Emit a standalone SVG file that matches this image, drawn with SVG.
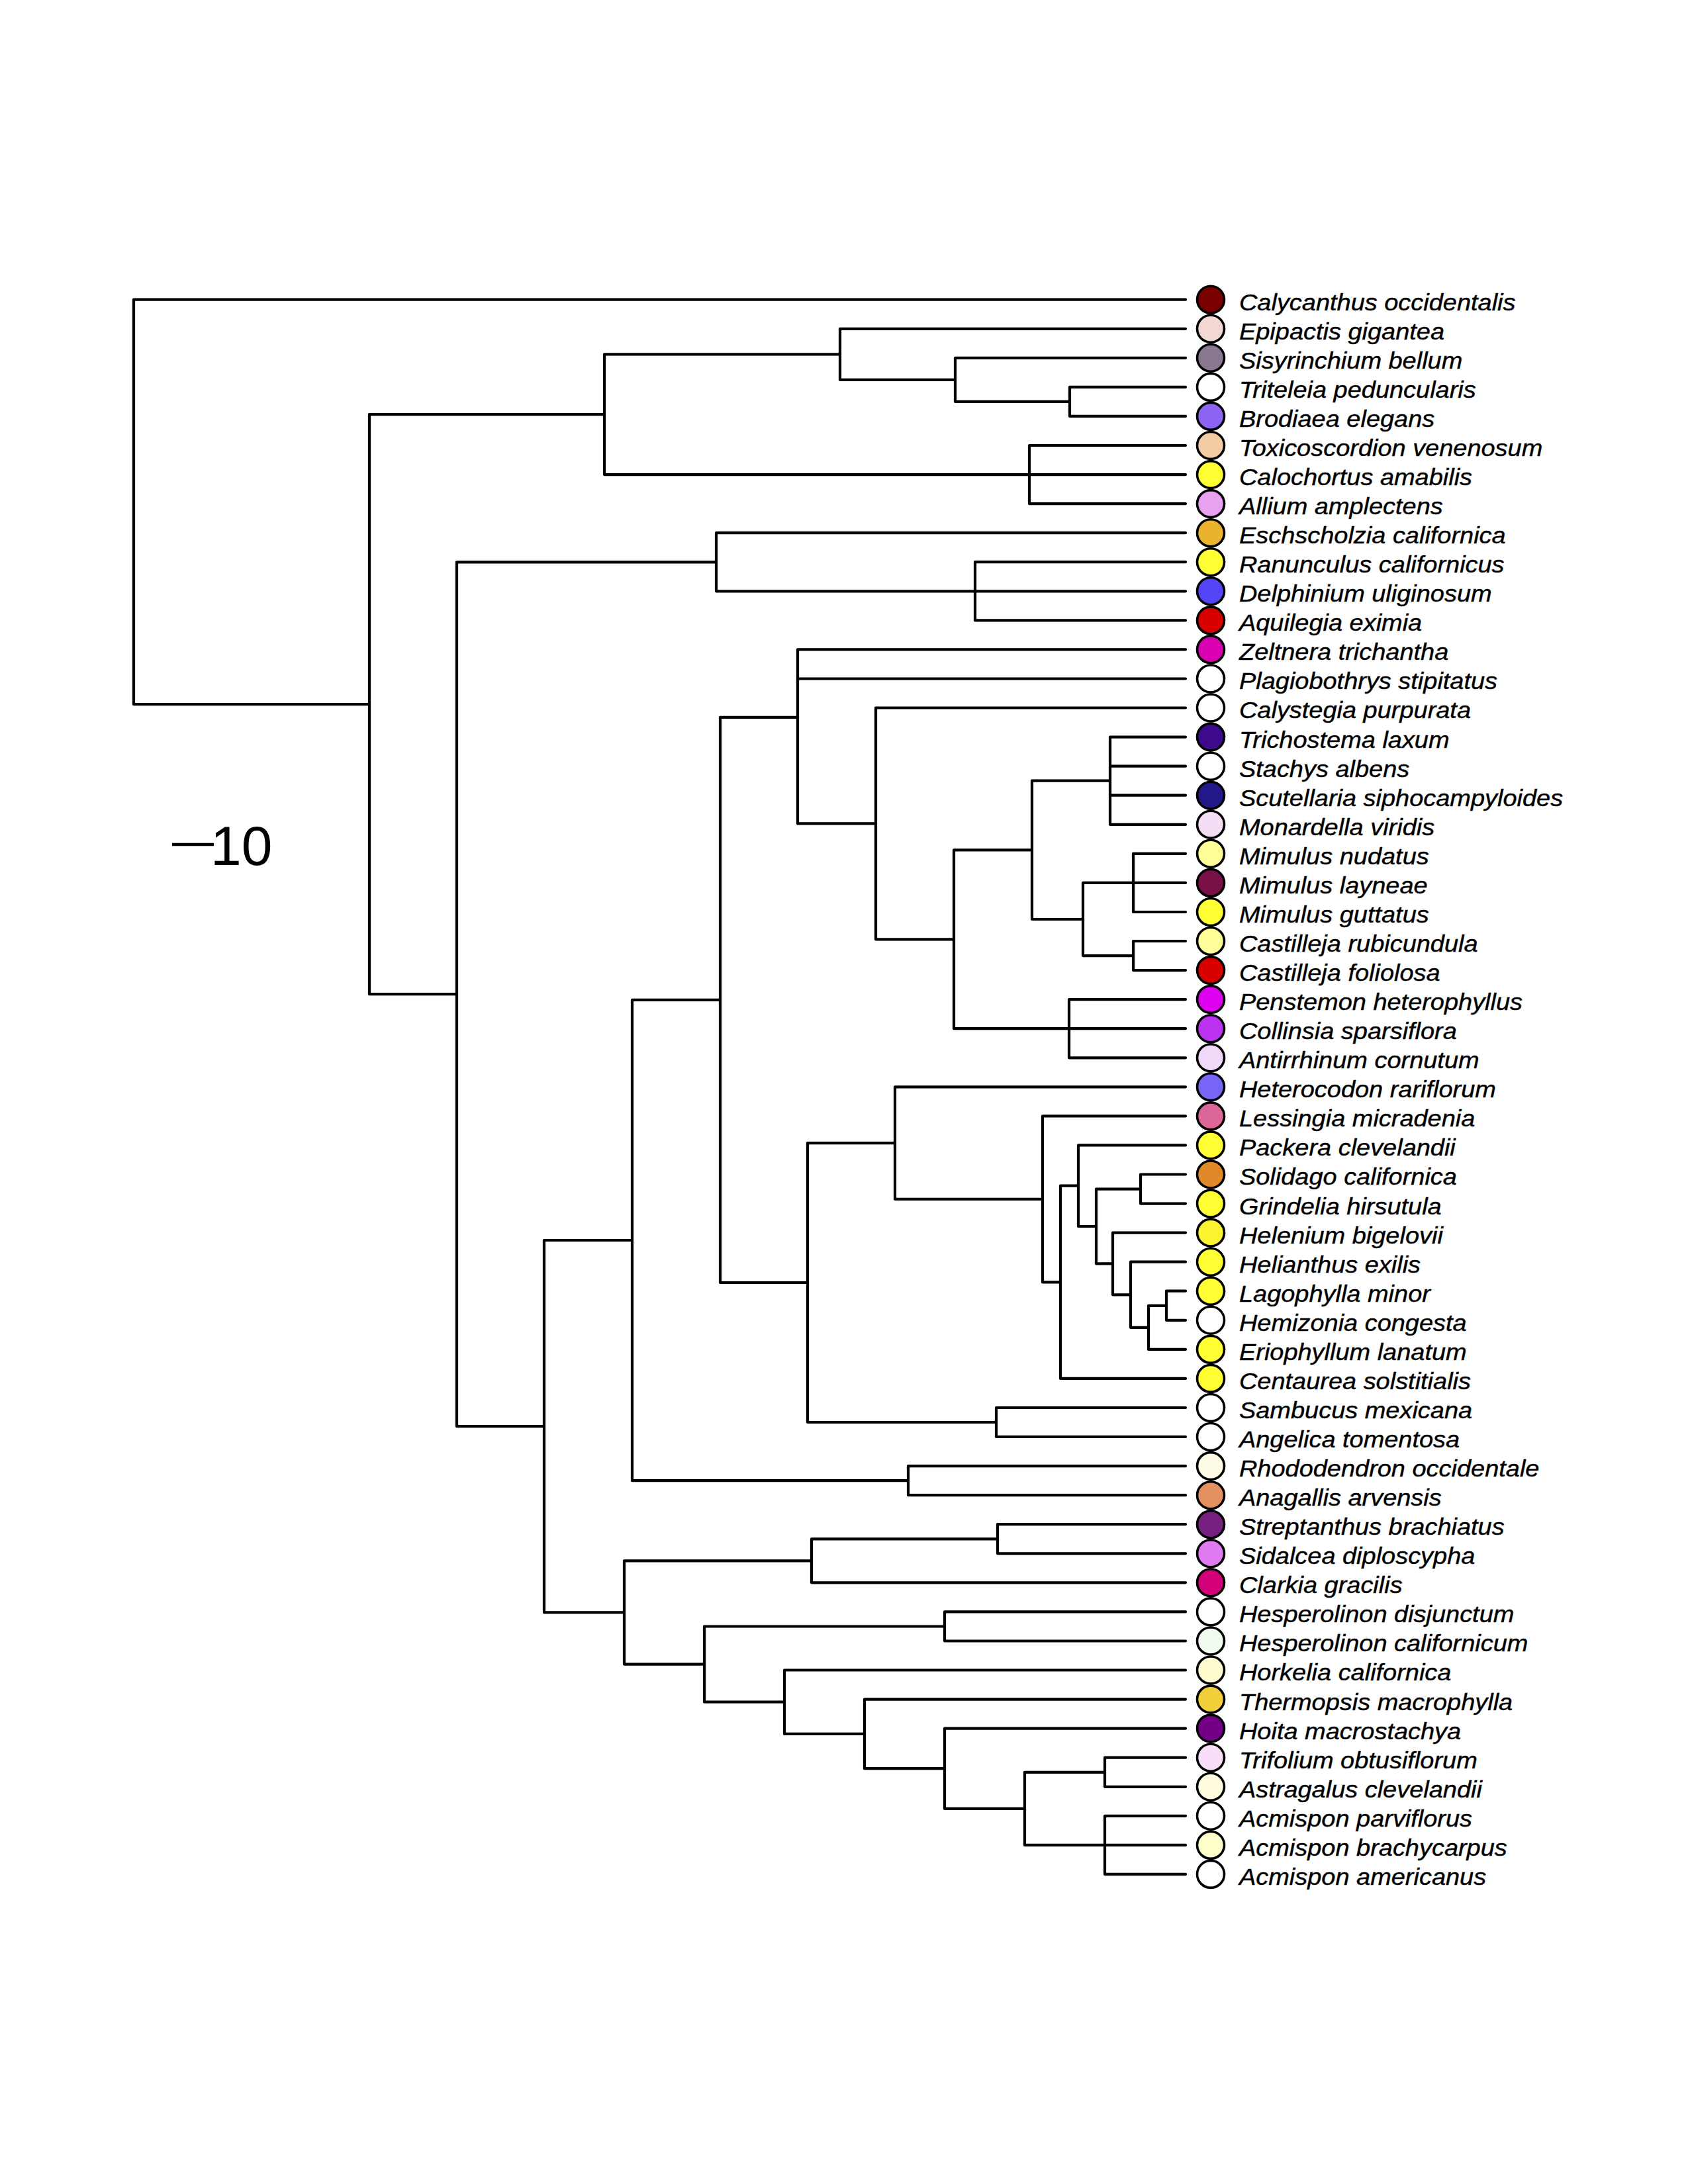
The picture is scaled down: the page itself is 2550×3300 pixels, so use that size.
<svg xmlns="http://www.w3.org/2000/svg" width="2550" height="3300" viewBox="0 0 2550 3300">
<style>
.br{fill:none;stroke:#000;stroke-width:4.2;stroke-linecap:round;stroke-linejoin:miter}
.tc{stroke:#000;stroke-width:3.6}
.lb{font-family:"Liberation Sans",Arial,sans-serif;font-style:italic;font-size:34.5px;fill:#000;stroke:#000;stroke-width:0.4}
.sc{font-family:"Liberation Sans",Arial,sans-serif;font-size:84px;fill:#000}
</style>
<rect width="2550" height="3300" fill="#fff"/>
<g id="scale-bar">
<line x1="260" y1="1276" x2="323" y2="1276" stroke="#000" stroke-width="4.5"/>
<text class="sc" x="318" y="1307">10</text>
</g>
<g id="connectors">
<path class="br" d="M202 452.7V1064.2M202 452.7H1791M202 1064.2H558"/>
<path class="br" d="M558 626.2V1502.2M558 626.2H913M558 1502.2H690"/>
<path class="br" d="M913 535.3V717.1M913 535.3H1269M913 717.1H1555"/>
<path class="br" d="M1269 496.8V573.9M1269 496.8H1791M1269 573.9H1443"/>
<path class="br" d="M1443 540.8V606.9M1443 540.8H1791M1443 606.9H1616"/>
<path class="br" d="M1616 584.9V628.9M1616 584.9H1791M1616 628.9H1791"/>
<path class="br" d="M1555 673V761.1M1555 673H1791M1555 717.1H1791M1555 761.1H1791"/>
<path class="br" d="M690 849.3V2155.2M690 849.3H1082M690 2155.2H822"/>
<path class="br" d="M1082 805.2V893.3M1082 805.2H1791M1082 893.3H1473"/>
<path class="br" d="M1473 849.2V937.4M1473 849.2H1791M1473 893.3H1791M1473 937.4H1791"/>
<path class="br" d="M822 1874V2436.4M822 1874H955M822 2436.4H943"/>
<path class="br" d="M955 1510.9V2237.2M955 1510.9H1088M955 2237.2H1372"/>
<path class="br" d="M1088 1083.8V1938M1088 1083.8H1205M1088 1938H1220"/>
<path class="br" d="M1205 981.4V1244.4M1205 981.4H1791M1205 1025.5H1791M1205 1244.4H1323"/>
<path class="br" d="M1323 1069.5V1419.3M1323 1069.5H1791M1323 1419.3H1441"/>
<path class="br" d="M1441 1284.3V1554.2M1441 1284.3H1559M1441 1554.2H1615"/>
<path class="br" d="M1559 1179.7V1389M1559 1179.7H1677M1559 1389H1636"/>
<path class="br" d="M1677 1113.6V1245.8M1677 1113.6H1791M1677 1157.7H1791M1677 1201.7H1791M1677 1245.8H1791"/>
<path class="br" d="M1636 1333.9V1444.1M1636 1333.9H1712M1636 1444.1H1712"/>
<path class="br" d="M1712 1289.8V1378M1712 1289.8H1791M1712 1333.9H1791M1712 1378H1791"/>
<path class="br" d="M1712 1422V1466.1M1712 1422H1791M1712 1466.1H1791"/>
<path class="br" d="M1615 1510.1V1598.3M1615 1510.1H1791M1615 1554.2H1791M1615 1598.3H1791"/>
<path class="br" d="M1220 1727.1V2149M1220 1727.1H1352M1220 2149H1505"/>
<path class="br" d="M1352 1642.3V1811.9M1352 1642.3H1791M1352 1811.9H1575"/>
<path class="br" d="M1575 1686.4V1937.3M1575 1686.4H1791M1575 1937.3H1602"/>
<path class="br" d="M1602 1791.7V2082.9M1602 1791.7H1629M1602 2082.9H1791"/>
<path class="br" d="M1629 1730.4V1853M1629 1730.4H1791M1629 1853H1656"/>
<path class="br" d="M1656 1796.6V1909.4M1656 1796.6H1723M1656 1909.4H1681"/>
<path class="br" d="M1723 1774.5V1818.6M1723 1774.5H1791M1723 1818.6H1791"/>
<path class="br" d="M1681 1862.6V1956.3M1681 1862.6H1791M1681 1956.3H1708"/>
<path class="br" d="M1708 1906.7V2005.8M1708 1906.7H1791M1708 2005.8H1735"/>
<path class="br" d="M1735 1972.8V2038.9M1735 1972.8H1762M1735 2038.9H1791"/>
<path class="br" d="M1762 1950.7V1994.8M1762 1950.7H1791M1762 1994.8H1791"/>
<path class="br" d="M1505 2127V2171M1505 2127H1791M1505 2171H1791"/>
<path class="br" d="M1372 2215.1V2259.2M1372 2215.1H1791M1372 2259.2H1791"/>
<path class="br" d="M943 2358.3V2514.6M943 2358.3H1226M943 2514.6H1064"/>
<path class="br" d="M1226 2325.3V2391.3M1226 2325.3H1507M1226 2391.3H1791"/>
<path class="br" d="M1507 2303.2V2347.3M1507 2303.2H1791M1507 2347.3H1791"/>
<path class="br" d="M1064 2457.5V2571.7M1064 2457.5H1427M1064 2571.7H1185"/>
<path class="br" d="M1427 2435.4V2479.5M1427 2435.4H1791M1427 2479.5H1791"/>
<path class="br" d="M1185 2523.5V2619.9M1185 2523.5H1791M1185 2619.9H1306"/>
<path class="br" d="M1306 2567.6V2672.2M1306 2567.6H1791M1306 2672.2H1427"/>
<path class="br" d="M1427 2611.6V2732.8M1427 2611.6H1791M1427 2732.8H1548"/>
<path class="br" d="M1548 2677.8V2787.9M1548 2677.8H1669M1548 2787.9H1669"/>
<path class="br" d="M1669 2655.7V2699.8M1669 2655.7H1791M1669 2699.8H1791"/>
<path class="br" d="M1669 2743.8V2831.9M1669 2743.8H1791M1669 2787.9H1791M1669 2831.9H1791"/>
</g>
<g id="tip00"><circle class="tc" cx="1829" cy="452.7" r="20.5" fill="#7A0000"/><text class="lb" transform="scale(1.1 1)" x="1701.8" y="468.7">Calycanthus occidentalis</text></g>
<g id="tip01"><circle class="tc" cx="1829" cy="496.8" r="20.5" fill="#F2D8D3"/><text class="lb" transform="scale(1.1 1)" x="1701.8" y="512.8">Epipactis gigantea</text></g>
<g id="tip02"><circle class="tc" cx="1829" cy="540.8" r="20.5" fill="#8A7890"/><text class="lb" transform="scale(1.1 1)" x="1701.8" y="556.8">Sisyrinchium bellum</text></g>
<g id="tip03"><circle class="tc" cx="1829" cy="584.9" r="20.5" fill="#FFFFFF"/><text class="lb" transform="scale(1.1 1)" x="1701.8" y="600.9">Triteleia peduncularis</text></g>
<g id="tip04"><circle class="tc" cx="1829" cy="628.9" r="20.5" fill="#8C66F2"/><text class="lb" transform="scale(1.1 1)" x="1701.8" y="644.9">Brodiaea elegans</text></g>
<g id="tip05"><circle class="tc" cx="1829" cy="673" r="20.5" fill="#F2CCA3"/><text class="lb" transform="scale(1.1 1)" x="1701.8" y="689">Toxicoscordion venenosum</text></g>
<g id="tip06"><circle class="tc" cx="1829" cy="717.1" r="20.5" fill="#FFFF33"/><text class="lb" transform="scale(1.1 1)" x="1701.8" y="733.1">Calochortus amabilis</text></g>
<g id="tip07"><circle class="tc" cx="1829" cy="761.1" r="20.5" fill="#E8A0F0"/><text class="lb" transform="scale(1.1 1)" x="1701.8" y="777.1">Allium amplectens</text></g>
<g id="tip08"><circle class="tc" cx="1829" cy="805.2" r="20.5" fill="#EBB22E"/><text class="lb" transform="scale(1.1 1)" x="1701.8" y="821.2">Eschscholzia californica</text></g>
<g id="tip09"><circle class="tc" cx="1829" cy="849.2" r="20.5" fill="#FFFF33"/><text class="lb" transform="scale(1.1 1)" x="1701.8" y="865.2">Ranunculus californicus</text></g>
<g id="tip10"><circle class="tc" cx="1829" cy="893.3" r="20.5" fill="#5544F5"/><text class="lb" transform="scale(1.1 1)" x="1701.8" y="909.3">Delphinium uliginosum</text></g>
<g id="tip11"><circle class="tc" cx="1829" cy="937.4" r="20.5" fill="#D90000"/><text class="lb" transform="scale(1.1 1)" x="1701.8" y="953.4">Aquilegia eximia</text></g>
<g id="tip12"><circle class="tc" cx="1829" cy="981.4" r="20.5" fill="#D800B0"/><text class="lb" transform="scale(1.1 1)" x="1701.8" y="997.4">Zeltnera trichantha</text></g>
<g id="tip13"><circle class="tc" cx="1829" cy="1025.5" r="20.5" fill="#FFFFFF"/><text class="lb" transform="scale(1.1 1)" x="1701.8" y="1041.5">Plagiobothrys stipitatus</text></g>
<g id="tip14"><circle class="tc" cx="1829" cy="1069.5" r="20.5" fill="#FFFFFF"/><text class="lb" transform="scale(1.1 1)" x="1701.8" y="1085.5">Calystegia purpurata</text></g>
<g id="tip15"><circle class="tc" cx="1829" cy="1113.6" r="20.5" fill="#3D0A8C"/><text class="lb" transform="scale(1.1 1)" x="1701.8" y="1129.6">Trichostema laxum</text></g>
<g id="tip16"><circle class="tc" cx="1829" cy="1157.7" r="20.5" fill="#FFFFFF"/><text class="lb" transform="scale(1.1 1)" x="1701.8" y="1173.7">Stachys albens</text></g>
<g id="tip17"><circle class="tc" cx="1829" cy="1201.7" r="20.5" fill="#221888"/><text class="lb" transform="scale(1.1 1)" x="1701.8" y="1217.7">Scutellaria siphocampyloides</text></g>
<g id="tip18"><circle class="tc" cx="1829" cy="1245.8" r="20.5" fill="#F5DDF5"/><text class="lb" transform="scale(1.1 1)" x="1701.8" y="1261.8">Monardella viridis</text></g>
<g id="tip19"><circle class="tc" cx="1829" cy="1289.8" r="20.5" fill="#FFFF99"/><text class="lb" transform="scale(1.1 1)" x="1701.8" y="1305.8">Mimulus nudatus</text></g>
<g id="tip20"><circle class="tc" cx="1829" cy="1333.9" r="20.5" fill="#7A1048"/><text class="lb" transform="scale(1.1 1)" x="1701.8" y="1349.9">Mimulus layneae</text></g>
<g id="tip21"><circle class="tc" cx="1829" cy="1378" r="20.5" fill="#FFFF33"/><text class="lb" transform="scale(1.1 1)" x="1701.8" y="1394">Mimulus guttatus</text></g>
<g id="tip22"><circle class="tc" cx="1829" cy="1422" r="20.5" fill="#FFFF99"/><text class="lb" transform="scale(1.1 1)" x="1701.8" y="1438">Castilleja rubicundula</text></g>
<g id="tip23"><circle class="tc" cx="1829" cy="1466.1" r="20.5" fill="#D90000"/><text class="lb" transform="scale(1.1 1)" x="1701.8" y="1482.1">Castilleja foliolosa</text></g>
<g id="tip24"><circle class="tc" cx="1829" cy="1510.1" r="20.5" fill="#DD00EE"/><text class="lb" transform="scale(1.1 1)" x="1701.8" y="1526.1">Penstemon heterophyllus</text></g>
<g id="tip25"><circle class="tc" cx="1829" cy="1554.2" r="20.5" fill="#BB33EE"/><text class="lb" transform="scale(1.1 1)" x="1701.8" y="1570.2">Collinsia sparsiflora</text></g>
<g id="tip26"><circle class="tc" cx="1829" cy="1598.3" r="20.5" fill="#F2D8F8"/><text class="lb" transform="scale(1.1 1)" x="1701.8" y="1614.3">Antirrhinum cornutum</text></g>
<g id="tip27"><circle class="tc" cx="1829" cy="1642.3" r="20.5" fill="#7766F5"/><text class="lb" transform="scale(1.1 1)" x="1701.8" y="1658.3">Heterocodon rariflorum</text></g>
<g id="tip28"><circle class="tc" cx="1829" cy="1686.4" r="20.5" fill="#DD6699"/><text class="lb" transform="scale(1.1 1)" x="1701.8" y="1702.4">Lessingia micradenia</text></g>
<g id="tip29"><circle class="tc" cx="1829" cy="1730.4" r="20.5" fill="#FFFF33"/><text class="lb" transform="scale(1.1 1)" x="1701.8" y="1746.4">Packera clevelandii</text></g>
<g id="tip30"><circle class="tc" cx="1829" cy="1774.5" r="20.5" fill="#E0892A"/><text class="lb" transform="scale(1.1 1)" x="1701.8" y="1790.5">Solidago californica</text></g>
<g id="tip31"><circle class="tc" cx="1829" cy="1818.6" r="20.5" fill="#FFFF33"/><text class="lb" transform="scale(1.1 1)" x="1701.8" y="1834.6">Grindelia hirsutula</text></g>
<g id="tip32"><circle class="tc" cx="1829" cy="1862.6" r="20.5" fill="#FDF22F"/><text class="lb" transform="scale(1.1 1)" x="1701.8" y="1878.6">Helenium bigelovii</text></g>
<g id="tip33"><circle class="tc" cx="1829" cy="1906.7" r="20.5" fill="#FFFF33"/><text class="lb" transform="scale(1.1 1)" x="1701.8" y="1922.7">Helianthus exilis</text></g>
<g id="tip34"><circle class="tc" cx="1829" cy="1950.7" r="20.5" fill="#FFFF33"/><text class="lb" transform="scale(1.1 1)" x="1701.8" y="1966.7">Lagophylla minor</text></g>
<g id="tip35"><circle class="tc" cx="1829" cy="1994.8" r="20.5" fill="#FFFFFF"/><text class="lb" transform="scale(1.1 1)" x="1701.8" y="2010.8">Hemizonia congesta</text></g>
<g id="tip36"><circle class="tc" cx="1829" cy="2038.9" r="20.5" fill="#FFFF33"/><text class="lb" transform="scale(1.1 1)" x="1701.8" y="2054.9">Eriophyllum lanatum</text></g>
<g id="tip37"><circle class="tc" cx="1829" cy="2082.9" r="20.5" fill="#FFFF33"/><text class="lb" transform="scale(1.1 1)" x="1701.8" y="2098.9">Centaurea solstitialis</text></g>
<g id="tip38"><circle class="tc" cx="1829" cy="2127" r="20.5" fill="#FFFFFF"/><text class="lb" transform="scale(1.1 1)" x="1701.8" y="2143">Sambucus mexicana</text></g>
<g id="tip39"><circle class="tc" cx="1829" cy="2171" r="20.5" fill="#FFFFFF"/><text class="lb" transform="scale(1.1 1)" x="1701.8" y="2187">Angelica tomentosa</text></g>
<g id="tip40"><circle class="tc" cx="1829" cy="2215.1" r="20.5" fill="#FFFCE6"/><text class="lb" transform="scale(1.1 1)" x="1701.8" y="2231.1">Rhododendron occidentale</text></g>
<g id="tip41"><circle class="tc" cx="1829" cy="2259.2" r="20.5" fill="#E59060"/><text class="lb" transform="scale(1.1 1)" x="1701.8" y="2275.2">Anagallis arvensis</text></g>
<g id="tip42"><circle class="tc" cx="1829" cy="2303.2" r="20.5" fill="#782080"/><text class="lb" transform="scale(1.1 1)" x="1701.8" y="2319.2">Streptanthus brachiatus</text></g>
<g id="tip43"><circle class="tc" cx="1829" cy="2347.3" r="20.5" fill="#E07AF0"/><text class="lb" transform="scale(1.1 1)" x="1701.8" y="2363.3">Sidalcea diploscypha</text></g>
<g id="tip44"><circle class="tc" cx="1829" cy="2391.3" r="20.5" fill="#D4007A"/><text class="lb" transform="scale(1.1 1)" x="1701.8" y="2407.3">Clarkia gracilis</text></g>
<g id="tip45"><circle class="tc" cx="1829" cy="2435.4" r="20.5" fill="#FFFFFF"/><text class="lb" transform="scale(1.1 1)" x="1701.8" y="2451.4">Hesperolinon disjunctum</text></g>
<g id="tip46"><circle class="tc" cx="1829" cy="2479.5" r="20.5" fill="#F0FAEE"/><text class="lb" transform="scale(1.1 1)" x="1701.8" y="2495.5">Hesperolinon californicum</text></g>
<g id="tip47"><circle class="tc" cx="1829" cy="2523.5" r="20.5" fill="#FFFCD0"/><text class="lb" transform="scale(1.1 1)" x="1701.8" y="2539.5">Horkelia californica</text></g>
<g id="tip48"><circle class="tc" cx="1829" cy="2567.6" r="20.5" fill="#F2CE3A"/><text class="lb" transform="scale(1.1 1)" x="1701.8" y="2583.6">Thermopsis macrophylla</text></g>
<g id="tip49"><circle class="tc" cx="1829" cy="2611.6" r="20.5" fill="#740088"/><text class="lb" transform="scale(1.1 1)" x="1701.8" y="2627.6">Hoita macrostachya</text></g>
<g id="tip50"><circle class="tc" cx="1829" cy="2655.7" r="20.5" fill="#F8DEF8"/><text class="lb" transform="scale(1.1 1)" x="1701.8" y="2671.7">Trifolium obtusiflorum</text></g>
<g id="tip51"><circle class="tc" cx="1829" cy="2699.8" r="20.5" fill="#FFFCE0"/><text class="lb" transform="scale(1.1 1)" x="1701.8" y="2715.8">Astragalus clevelandii</text></g>
<g id="tip52"><circle class="tc" cx="1829" cy="2743.8" r="20.5" fill="#FFFFFF"/><text class="lb" transform="scale(1.1 1)" x="1701.8" y="2759.8">Acmispon parviflorus</text></g>
<g id="tip53"><circle class="tc" cx="1829" cy="2787.9" r="20.5" fill="#FFFFCC"/><text class="lb" transform="scale(1.1 1)" x="1701.8" y="2803.9">Acmispon brachycarpus</text></g>
<g id="tip54"><circle class="tc" cx="1829" cy="2831.9" r="20.5" fill="#FFFFFF"/><text class="lb" transform="scale(1.1 1)" x="1701.8" y="2847.9">Acmispon americanus</text></g>
</svg>
